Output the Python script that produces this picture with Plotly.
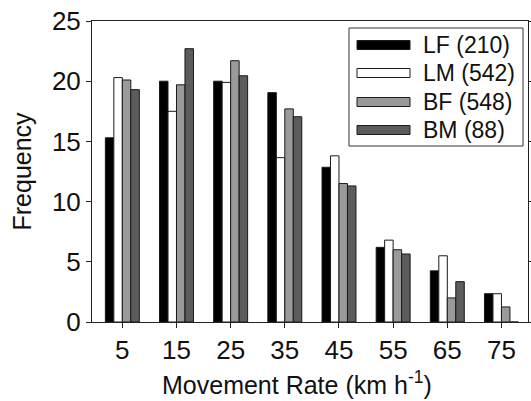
import plotly.graph_objects as go

# ---- data ----
categories = ["5", "15", "25", "35", "45", "55", "65", "75"]
series_names = ["LF (210)", "LM (542)", "BF (548)", "BM (88)"]
lf = [15.3, 20.0, 20.0, 19.05, 12.85, 6.2, 4.25, 2.35]
lm = [20.3, 17.5, 19.9, 13.65, 13.8, 6.8, 5.5, 2.35]
bf = [20.1, 19.7, 21.7, 17.7, 11.5, 6.0, 2.0, 1.25]
bm = [19.3, 22.7, 20.45, 17.05, 11.3, 5.65, 3.35, 0.0]

series_values = [lf, lm, bf, bm]
fill_colors = ["#000000", "#ffffff", "#9a9a9a", "#5c5c5c"]

W, H = 531, 401
PL, PR, PT, PB = 92, 528, 21, 322          # plot area in pixels
L, T = PL, PT
PW, PH = PR - PL, PB - PT
R, B = W - L - PW, H - T - PH
FONT = "Liberation Sans, Arial, Helvetica, sans-serif"

def px_x(p):
    return (p - PL) / PW

def px_y(p):
    return (PB - p) / PH

xpos = list(range(len(categories)))

fig = go.Figure()
for name, vals, col in zip(series_names, series_values, fill_colors):
    fig.add_trace(go.Bar(
        x=xpos, y=vals, name=name,
        marker=dict(color=col, line=dict(color="#1a1a1a", width=1)),
        showlegend=False,
    ))

# custom legend (wide bar symbols like the reference)
shapes = [dict(type="rect", xref="paper", yref="paper",
               x0=px_x(349), x1=px_x(523), y0=px_y(146), y1=px_y(28),
               line=dict(color="#333333", width=1), fillcolor="rgba(0,0,0,0)")]
annotations = []
row_centers = [45, 73, 102, 130]
for name, col, cy in zip(series_names, fill_colors, row_centers):
    shapes.append(dict(type="rect", xref="paper", yref="paper",
                       x0=px_x(357), x1=px_x(410), y0=px_y(cy + 4.5), y1=px_y(cy - 4.5),
                       line=dict(color="#1a1a1a", width=1), fillcolor=col))
    annotations.append(dict(text=name, xref="paper", yref="paper",
                            x=px_x(421), y=px_y(cy), xanchor="left", yanchor="middle",
                            showarrow=False, font=dict(size=23, color="#111111", family=FONT)))

annotations.append(dict(text="Movement Rate (km h<sup>-1</sup>)", xref="paper", yref="paper",
                        x=px_x(297), y=px_y(383), xanchor="center", yanchor="middle",
                        showarrow=False, font=dict(size=25, color="#111111", family=FONT)))
annotations.append(dict(text="Frequency", xref="paper", yref="paper",
                        x=px_x(21), y=0.5, xanchor="center", yanchor="middle", textangle=-90,
                        showarrow=False, font=dict(size=25, color="#111111", family=FONT)))

fig.update_layout(
    width=W, height=H,
    margin=dict(l=L, r=R, t=T, b=B, pad=0, autoexpand=False),
    paper_bgcolor="white", plot_bgcolor="white",
    barmode="group", bargap=0.373, bargroupgap=0,
    font=dict(family=FONT, color="#111111"),
    shapes=shapes, annotations=annotations,
    showlegend=False,
)
fig.update_xaxes(
    range=[-0.56, 7.49], tickvals=xpos, ticktext=categories, automargin=False,
    showgrid=False, zeroline=False, showline=True, linecolor="#222222", linewidth=1,
    mirror=True, ticks="outside", ticklen=5, tickcolor="#222222",
    tickfont=dict(size=26, family=FONT, color="#111111"),
)
fig.update_yaxes(
    range=[0, 25], dtick=5, tick0=0, automargin=False,
    showgrid=False, zeroline=False, showline=True, linecolor="#222222", linewidth=1,
    mirror="ticks", ticks="outside", ticklen=5, tickcolor="#222222",
    ticklabeloverflow="allow",
    tickfont=dict(size=26, family=FONT, color="#111111"),
)

fig.write_html(
    "out.html",
    config=dict(displayModeBar=False, responsive=False),
    post_script="document.body.style.margin='0';document.documentElement.style.overflow='hidden';",
)
